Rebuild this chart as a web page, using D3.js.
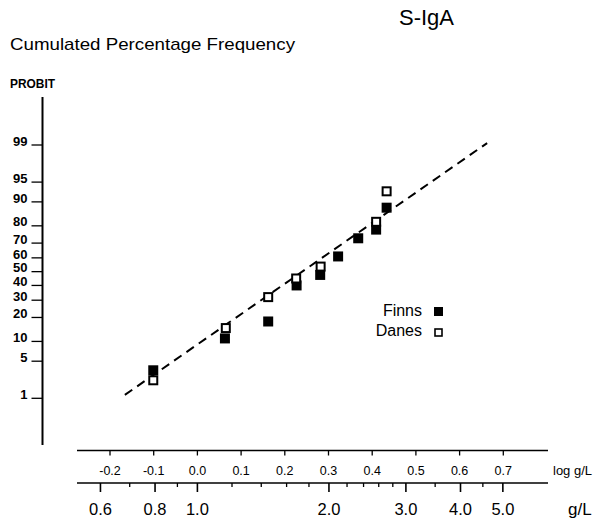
<!DOCTYPE html>
<html>
<head>
<meta charset="utf-8">
<title>S-IgA probit plot</title>
<script src="https://cdn.jsdelivr.net/npm/d3@7"></script>
<style>
body { margin: 0; background: #fff; }
svg { font-family: "Liberation Sans", Arial, Helvetica, sans-serif; }
</style>
</head>
<body>
<div id="chart"></div>
<script>
// data: x = log10(g/L), y = cumulated percentage
var finnsLog = [-0.101, 0.063, 0.162, 0.227, 0.281, 0.322, 0.368, 0.409, 0.433];
var finnsPct = [3.5, 11, 18, 40, 47.6, 61, 73, 78, 88];
var danesLog = [-0.101, 0.065, 0.162, 0.226, 0.282, 0.409, 0.433];
var danesPct = [2.3, 15, 32, 45, 53.7, 82, 93];
// fitted dashed line, two ends
var fitLog = [-0.166, 0.663];
var fitPct = [1.18, 99.09];

var probitTicks = [1, 5, 10, 20, 30, 40, 50, 60, 70, 80, 90, 95, 99];
var logTicks = [-0.2, -0.1, 0.0, 0.1, 0.2, 0.3, 0.4, 0.5, 0.6, 0.7];
var glMajor = [0.6, 0.8, 1.0, 2.0, 3.0, 4.0, 5.0];
var glMinor = [0.7, 0.9, 1.2, 1.4, 1.6, 1.8, 2.2, 2.4, 2.6, 2.8, 3.5, 4.5];

var W = 594, H = 522;
var svg = d3.select("#chart").append("svg").attr("width", W).attr("height", H);

// inverse normal cdf (Acklam)
function probit(p) {
	var a = [-39.69683028665376, 220.9460984245205, -275.9285104469687, 138.3577518672690, -30.66479806614716, 2.506628277459239];
	var b = [-54.47609879822406, 161.5858368580409, -155.6989798598866, 66.80131188771972, -13.28068155288572];
	var c = [-0.007784894002430293, -0.3223964580411365, -2.400758277161838, -2.549732539343734, 4.374664141464968, 2.938163982698783];
	var d = [0.007784695709041462, 0.3224671290700398, 2.445134137142996, 3.754408661907416];
	var q, r;
	if (p < 0.02425) {
		q = Math.sqrt(-2 * Math.log(p));
		return (((((c[0]*q+c[1])*q+c[2])*q+c[3])*q+c[4])*q+c[5]) / ((((d[0]*q+d[1])*q+d[2])*q+d[3])*q+1);
	}
	if (p > 1 - 0.02425) {
		q = Math.sqrt(-2 * Math.log(1 - p));
		return -(((((c[0]*q+c[1])*q+c[2])*q+c[3])*q+c[4])*q+c[5]) / ((((d[0]*q+d[1])*q+d[2])*q+d[3])*q+1);
	}
	q = p - 0.5; r = q * q;
	return (((((a[0]*r+a[1])*r+a[2])*r+a[3])*r+a[4])*r+a[5])*q / (((((b[0]*r+b[1])*r+b[2])*r+b[3])*r+b[4])*r+1);
}

var x = d3.scaleLinear().domain([-0.2, 0.7]).range([110, 503.3]);
var gl = d3.scaleLog().domain([Math.pow(10, -0.2), Math.pow(10, 0.7)]).range(x.range());
var z = d3.scaleLinear().domain([probit(0.01), probit(0.99)]).range([398.3, 145]);
function y(p) { return z(probit(p / 100)); }

var axisLeftX = 42.5, topAxisY = 450.5, botAxisY = 483;

// titles
svg.append("text").attr("x", 399).attr("y", 25).attr("font-size", 22).text("S-IgA");
svg.append("text").attr("x", 10).attr("y", 50).attr("font-size", 17)
	.attr("textLength", 285).attr("lengthAdjust", "spacingAndGlyphs")
	.text("Cumulated Percentage Frequency");
svg.append("text").attr("x", 10).attr("y", 88).attr("font-size", 12).attr("font-weight", "bold")
	.attr("textLength", 45).attr("lengthAdjust", "spacingAndGlyphs").text("PROBIT");

// probit axis
var yAxis = svg.append("g").attr("transform", "translate(" + axisLeftX + ",0)");
yAxis.append("line").attr("y1", 97).attr("y2", 445).attr("stroke", "#000").attr("stroke-width", 2);
var yt = yAxis.selectAll("g.tick").data(probitTicks).enter().append("g").attr("class", "tick")
	.attr("transform", function(d) { return "translate(0," + y(d) + ")"; });
yt.append("line").attr("x1", -11).attr("x2", 0).attr("stroke", "#000").attr("stroke-width", 1.3);
yt.append("text").attr("x", -15).attr("dy", "0.05em").attr("text-anchor", "end")
	.attr("font-size", 13).attr("font-weight", "bold").text(function(d) { return d; });

// log g/L axis
var lineFrom = x.invert(77), lineTo = x.invert(548);
var topAx = svg.append("g").attr("transform", "translate(0," + topAxisY + ")");
topAx.append("line").attr("x1", x(lineFrom)).attr("x2", x(lineTo)).attr("stroke", "#000").attr("stroke-width", 1.6);
var tt = topAx.selectAll("g.tick").data(logTicks).enter().append("g").attr("class", "tick")
	.attr("transform", function(d) { return "translate(" + x(d) + ",0)"; });
tt.append("line").attr("y2", 5).attr("stroke", "#000").attr("stroke-width", 1.3);
tt.append("text").attr("y", 24).attr("text-anchor", "middle").attr("font-size", 12.5)
	.text(function(d) { return d.toFixed(1); });
topAx.append("text").attr("x", 553).attr("y", 24).attr("font-size", 13).text("log g/L");

// g/L axis
var botAx = svg.append("g").attr("transform", "translate(0," + botAxisY + ")");
botAx.append("line").attr("x1", x(lineFrom)).attr("x2", x(lineTo)).attr("stroke", "#000").attr("stroke-width", 1.6);
botAx.selectAll("line.minor").data(glMinor).enter().append("line").attr("class", "minor")
	.attr("x1", gl).attr("x2", gl).attr("y2", 4).attr("stroke", "#000").attr("stroke-width", 1.3);
var bt = botAx.selectAll("g.tick").data(glMajor).enter().append("g").attr("class", "tick")
	.attr("transform", function(d) { return "translate(" + gl(d) + ",0)"; });
bt.append("line").attr("y2", 9).attr("stroke", "#000").attr("stroke-width", 1.6);
bt.append("text").attr("y", 32).attr("text-anchor", "middle").attr("font-size", 16.5)
	.text(function(d) { return d.toFixed(1); });
botAx.append("text").attr("x", 568).attr("y", 32).attr("font-size", 17).text("g/L");

// dashed fit line
svg.append("line")
	.attr("x1", x(fitLog[0])).attr("y1", y(fitPct[0]))
	.attr("x2", x(fitLog[1])).attr("y2", y(fitPct[1]))
	.attr("stroke", "#000").attr("stroke-width", 2).attr("stroke-dasharray", "9,6");

// points
var S = 10;
svg.selectAll("rect.finn").data(d3.zip(finnsLog, finnsPct)).enter().append("rect").attr("class", "finn")
	.attr("x", function(d) { return x(d[0]) - S / 2; }).attr("y", function(d) { return y(d[1]) - S / 2; })
	.attr("width", S).attr("height", S).attr("fill", "#000");
svg.selectAll("rect.dane").data(d3.zip(danesLog, danesPct)).enter().append("rect").attr("class", "dane")
	.attr("x", function(d) { return x(d[0]) - S / 2 + 1; }).attr("y", function(d) { return y(d[1]) - S / 2 + 1; })
	.attr("width", S - 2).attr("height", S - 2).attr("fill", "#fff").attr("stroke", "#000").attr("stroke-width", 2);

// legend
var lg = svg.append("g");
lg.append("text").attr("x", 422).attr("y", 316).attr("text-anchor", "end").attr("font-size", 16).text("Finns");
lg.append("rect").attr("x", 434).attr("y", 307).attr("width", 9).attr("height", 9).attr("fill", "#000");
lg.append("text").attr("x", 422).attr("y", 336).attr("text-anchor", "end").attr("font-size", 16).text("Danes");
lg.append("rect").attr("x", 435).attr("y", 329).attr("width", 7).attr("height", 7)
	.attr("fill", "#fff").attr("stroke", "#000").attr("stroke-width", 1.6);
</script>
</body>
</html>
